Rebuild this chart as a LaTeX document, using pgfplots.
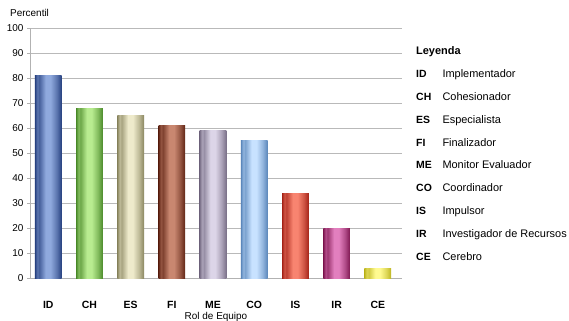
\documentclass[border=0pt]{standalone}
\usepackage{fontspec}
\setmainfont{Liberation Sans}
\usepackage{pgfplots}
\pgfplotsset{compat=1.18}
\colorlet{cdark}{black}
\colorlet{clight}{white}
\pgfdeclarehorizontalshading[cdark,clight]{cyl}{100bp}{%
  color(0bp)=(cdark); color(25bp)=(cdark); color(28bp)=(cdark!65!clight); color(30bp)=(cdark!50!clight);
  color(33bp)=(cdark!70!clight); color(45bp)=(clight); color(54bp)=(clight);
  color(66bp)=(cdark!50!clight); color(75bp)=(cdark); color(100bp)=(cdark)}
\tikzset{cyl/.style n args={2}{/utils/exec={\definecolor{cdark}{HTML}{#1}\definecolor{clight}{HTML}{#2}}, shading=cyl, draw=none}}
\begin{document}
\begin{tikzpicture}[x=1bp,y=1bp]
\useasboundingbox (0,0) rectangle (569,320);
\begin{axis}[at={(30bp,41.7bp)}, anchor=south west, scale only axis,
  width=371.7bp, height=250bp,
  xmin=-0.444, xmax=8.58, ymin=0, ymax=100,
  ytick={0,10,...,100}, xtick={0,...,8},
  xticklabels={ID,CH,ES,FI,ME,CO,IS,IR,CE},
  ymajorgrids, grid style={gray!55, line width=0.7pt},
  axis x line=bottom, axis y line=left,
  axis line style={-, draw=gray!60, line width=0.7pt},
  tick label style={font=\fontsize{10}{12}\selectfont},
  xticklabel style={font=\fontsize{10.5}{12}\selectfont\bfseries, anchor=center, yshift=-23.4bp},
  xtick style={draw=none}, ytick style={draw=gray!60, line width=0.7pt},
  tick align=outside, major tick length=3bp,
  /pgf/number format/assume math mode=true, clip=false,
  ybar, bar width=26.7bp]
\addplot[bar shift=0pt, cyl={26407F}{8FA9DD}] coordinates {(0,81)};
\addplot[bar shift=0pt, cyl={4B8A2A}{B8EC90}] coordinates {(1,68)};
\addplot[bar shift=0pt, cyl={8A8660}{EEEACB}] coordinates {(2,65)};
\addplot[bar shift=0pt, cyl={5E2313}{C98770}] coordinates {(3,61)};
\addplot[bar shift=0pt, cyl={7A7088}{DCD5E8}] coordinates {(4,59)};
\addplot[bar shift=0pt, cyl={5A86BA}{C8E2FF}] coordinates {(5,55)};
\addplot[bar shift=0pt, cyl={A42317}{F88470}] coordinates {(6,34)};
\addplot[bar shift=0pt, cyl={7E1750}{E27FBE}] coordinates {(7,20)};
\addplot[bar shift=0pt, cyl={BDB520}{FFFA90}] coordinates {(8,4)};
\end{axis}
\node[anchor=west, inner sep=0, font=\fontsize{10}{12}\selectfont] at (10,306.7) {Percentil};
\node[anchor=center, inner sep=0, font=\fontsize{10}{12}\selectfont] at (216,3.3) {Rol de Equipo};
\node[anchor=base west, inner sep=0, font=\fontsize{11}{13}\selectfont\bfseries] at (416,265.3) {Leyenda};
\foreach \a/\b [count=\k from 0] in {ID/Implementador, CH/Cohesionador, ES/Especialista, FI/Finalizador, ME/Monitor Evaluador, CO/Coordinador, IS/Impulsor, IR/Investigador de Recursos, CE/Cerebro}{
  \node[anchor=base west, inner sep=0, font=\fontsize{10.5}{13}\selectfont\bfseries] at (416,{242.7-22.9*\k}) {\a};
  \node[anchor=base west, inner sep=0, font=\fontsize{11}{13}\selectfont] at (442.3,{242.7-22.9*\k}) {\b};
}
\end{tikzpicture}
\end{document}
